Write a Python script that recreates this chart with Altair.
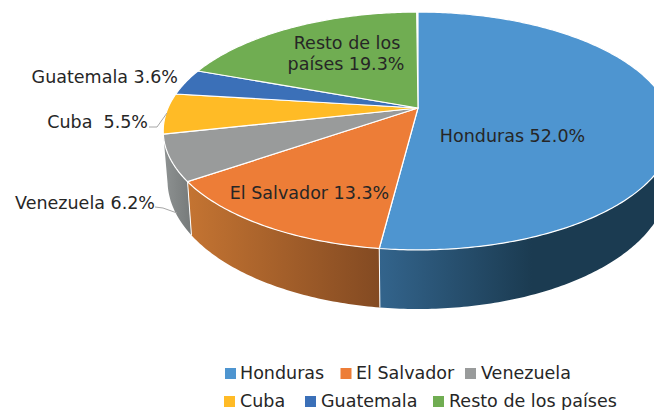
import math
import altair as alt

categories = ["Honduras", "El Salvador", "Venezuela", "Cuba", "Guatemala", "Resto de los países"]
shares = [52.0, 13.3, 6.2, 5.5, 3.6, 19.3]
colors = ["#4E95D0", "#ED7D37", "#999B9B", "#FFBB26", "#3B70B8", "#70AD52"]
wall_left = {"Honduras": "#33648C", "El Salvador": "#C47432", "Venezuela": "#8E9292"}
wall_right = {"Honduras": "#1B3B51", "El Salvador": "#834A22", "Venezuela": "#767A7A"}
wall_stop = {"Honduras": 0.52, "El Salvador": 1.0, "Venezuela": 1.0}

FONT = "DejaVu Sans"
FS = 17.5
TXT = "#262626"
OFF = 8  # page margin

CX, CY, A, B, K, DEPTH, SHRINK = 418, 108, 250, 114.5, 0.193, 47.7, 0.983
TAN_R = math.degrees(math.pi - math.acos(K))
TAN_L = 360 - TAN_R


def top(deg):
    t = math.radians(deg)
    u, v = math.sin(t), math.cos(t)
    w = 1 + K * v
    return (CX + A * u / w - OFF, CY - B * v / w - OFF)


def bottom(deg):
    t = math.radians(deg)
    u, v = math.sin(t), math.cos(t)
    w = 1 + K * v
    return (CX + SHRINK * A * u / w - OFF, CY - B * v / w + DEPTH / w - OFF)


def feature(geom, coords, c):
    return {"type": "Feature", "properties": {"c": c}, "geometry": {"type": geom, "coordinates": coords}}


def geo(features):
    return alt.InlineData(values={"type": "FeatureCollection", "features": features},
                          format=alt.DataFormat(property="features", type="json"))


proj = dict(type="identity", scale=1, translate=[0, 0])

edges = [0]
for s in shares:
    edges.append(edges[-1] + s * 3.6)

apex = (CX - OFF, CY - OFF)
tops, seams, wall_layers = [], [], []
for name, col, a0, a1 in zip(categories, colors, edges[:-1], edges[1:]):
    n = max(4, int((a1 - a0) / 0.75))
    ring = [top(a0 + (a1 - a0) * i / n) for i in range(n + 1)]
    tops.append(feature("Polygon", [[apex] + ring + [apex]], col))
    lo, hi = max(a0, TAN_R), min(a1, TAN_L)
    if name in wall_left and hi > lo:
        m = max(4, int((hi - lo) / 0.75))
        degs = [lo + (hi - lo) * i / m for i in range(m + 1)]
        outline = [top(d) for d in degs] + [bottom(d) for d in reversed(degs)]
        outline.append(outline[0])
        stops = [alt.GradientStop(offset=0, color=wall_left[name]),
                 alt.GradientStop(offset=wall_stop[name], color=wall_right[name])]
        if wall_stop[name] < 1:
            stops.append(alt.GradientStop(offset=1, color=wall_right[name]))
        grad = alt.LinearGradient(gradient="linear", stops=stops, x1=0, x2=1, y1=0, y2=0)
        wall_layers.append(
            alt.Chart(geo([feature("Polygon", [outline], col)])).mark_geoshape(fill=grad, clip=True).project(**proj)
        )
        seams.append(feature("LineString", [top(a1), bottom(a1)], "#ffffff"))

seam_layer = alt.Chart(geo(seams[:2])).mark_geoshape(filled=False, stroke="#ffffff", strokeWidth=1, clip=True).project(**proj)
top_layer = alt.Chart(geo(tops)).mark_geoshape(stroke="#ffffff", strokeWidth=1.2, clip=True).encode(
    fill=alt.Fill("properties.c:N", scale=None)
).project(**proj)

leader_pts = [
    [(155, 207), (163, 208), (177, 213)],
    [(149, 127), (157, 127), (167, 113)],
]
leaders = [feature("LineString", [(x - OFF, y - OFF) for x, y in pts], "#A6A6A6") for pts in leader_pts]
leader_layer = alt.Chart(geo(leaders)).mark_geoshape(filled=False, stroke="#A6A6A6", strokeWidth=1).project(**proj)


def label(text, x, y, align="left", size=FS):
    return alt.Chart(alt.Data(values=[{"t": text}])).mark_text(
        align=align, baseline="middle", font=FONT, fontSize=size, color=TXT
    ).encode(text="t:N", x=alt.value(x - OFF), y=alt.value(y + 1.5 - OFF))


def fmt(i):
    return f"{shares[i]:.1f}%"


labels = [
    label(f"Honduras {fmt(0)}", 512.5, 135, "center"),
    label(f"El Salvador {fmt(1)}", 309.5, 192, "center"),
    label(f"Venezuela {fmt(2)}", 155, 202, "right"),
    label(f"Cuba\u00a0\u00a0{fmt(3)}", 148, 121, "right"),
    label(f"Guatemala {fmt(4)}", 178, 76, "right"),
    label("Resto de los", 347, 42, "center"),
    label(f"países {fmt(5)}", 346, 63, "center"),
]

legend_pos = [(230.5, 373.5, 240), (346, 373.5, 356), (470.5, 373.5, 481),
              (229.5, 401.5, 240), (310.5, 401.5, 321), (438.5, 401.5, 449)]
legend = []
for name, col, (sx, sy, tx) in zip(categories, colors, legend_pos):
    legend.append(alt.Chart(alt.Data(values=[{"t": name}])).mark_square(size=121, color=col, opacity=1).encode(
        x=alt.value(sx - OFF), y=alt.value(sy - OFF)))
    legend.append(label(name, tx, sy - 1.5))

chart = alt.layer(*wall_layers, seam_layer, top_layer, leader_layer, *labels, *legend).properties(
    width=646, height=402, padding=0, autosize=alt.AutoSizeParams(type="none")
).configure_view(stroke=None)

chart.save("out.html", embed_options={"renderer": "svg", "actions": False})
